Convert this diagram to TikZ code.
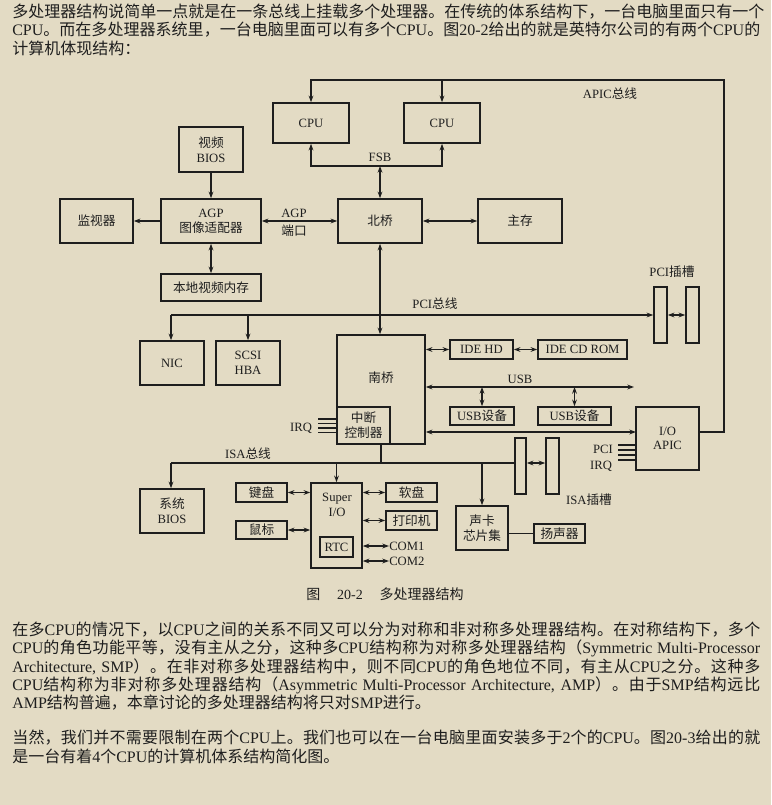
\documentclass[tikz,border=0pt]{standalone}
\usepackage{fontspec}
\setmainfont{Liberation Serif}
\newfontfamily\cjk{Noto Sans CJK SC}
\newfontfamily\latf{Liberation Serif}
\usetikzlibrary{arrows.meta}
\newXeTeXintercharclass\cjkcls
\count255="3000
\loop\XeTeXcharclass\count255=\cjkcls \ifnum\count255<"9FFF \advance\count255 by 1 \repeat
\count255="FF00
\loop\XeTeXcharclass\count255=\cjkcls \ifnum\count255<"FFEF \advance\count255 by 1 \repeat
\XeTeXinterchartoks 0 \cjkcls={\cjk}
\XeTeXinterchartoks 4095 \cjkcls={\cjk}
\XeTeXinterchartoks \cjkcls 0={\latf}
\XeTeXinterchartoks \cjkcls 4095={\latf}
\XeTeXinterchartoks \cjkcls \cjkcls={\hskip0pt plus 1pt\relax}
\XeTeXinterchartokenstate=1
\newcommand\jl[1]{\hbox to 561pt{#1}}
\definecolor{bg}{HTML}{E3DBC4}
\definecolor{ink}{HTML}{1E1E1E}
\begin{document}
\begin{tikzpicture}[x=0.75pt,y=-0.75pt,
  every node/.style={text=ink,font=\fontsize{9.5}{11}\selectfont},
  box/.style={draw=ink,line width=1.2pt,align=center,inner sep=0pt},
  lbl/.style={inner sep=0pt},
  txt/.style={anchor=west,inner sep=0pt,font=\fontsize{12}{14}\selectfont},
  con/.style={draw=ink,line width=1pt},
  ar/.style={con,-{Stealth[length=5pt,width=3.6pt]}},
  dar/.style={con,{Stealth[length=5pt,width=3.6pt]}-{Stealth[length=5pt,width=3.6pt]}}]
\fill[bg] (0,0) rectangle (771,805);
\useasboundingbox (0,0) rectangle (771,805);
\newcommand\bx[6]{\node[box,minimum width={(#4-#2)*0.75pt},minimum height={(#5-#3)*0.75pt}] (#1) at ({(#2+#4)/2},{(#3+#5)/2}) {#6};}
% top text
\node[txt] (p1) at (12,12) {\jl{多处理器结构说简单一点就是在一条总线上挂载多个处理器。在传统的体系结构下，一台电脑里面只有一个}};
\node[txt] (p2) at (12,30) {\jl{CPU。而在多处理器系统里，一台电脑里面可以有多个CPU。图20-2给出的就是英特尔公司的有两个CPU的}};
\node[txt] (p3) at (12,48) {计算机体现结构：};
% boxes
\bx{cpu1}{273}{103}{349}{143}{CPU}
\bx{cpu2}{404}{103}{480}{143}{CPU}
\bx{vbios}{179}{127}{243}{172}{视频\\BIOS}
\bx{mon}{60}{199}{133}{243}{监视器}
\bx{agp}{161}{199}{261}{243}{AGP\\图像适配器}
\bx{nb}{338}{199}{422}{243}{北桥}
\bx{mem}{478}{199}{562}{243}{主存}
\bx{lvm}{161}{274}{261}{301}{本地视频内存}
\bx{pci1}{654}{287}{667}{343}{}
\bx{pci2}{686}{287}{699}{343}{}
\bx{nic}{140}{341}{204}{385}{NIC}
\bx{scsi}{216}{341}{280}{385}{SCSI\\HBA}
\bx{sb}{337}{335}{425}{444}{}
\node[lbl] (sbl) at (381,378) {南桥};
\bx{intc}{337}{407}{390}{444}{中断\\控制器}
\bx{idehd}{450}{340}{513}{359}{IDE HD}
\bx{idecd}{538}{340}{627}{359}{IDE CD ROM}
\bx{usb1}{450}{407}{514}{425}{USB设备}
\bx{usb2}{538}{407}{611}{425}{USB设备}
\bx{ioapic}{636}{407}{699}{470}{I/O\\APIC}
\bx{sbios}{140}{489}{204}{533}{系统\\BIOS}
\bx{sio}{311}{483}{362}{568}{}
\node[lbl,align=center] (siol) at (337,505) {Super\\I/O};
\bx{rtc}{320}{537}{353}{557}{RTC}
\bx{kb}{236}{483}{287}{502}{键盘}
\bx{mouse}{236}{521}{287}{539}{鼠标}
\bx{fd}{386}{483}{437}{502}{软盘}
\bx{prn}{386}{511}{437}{530}{打印机}
\bx{snd}{456}{506}{508}{550}{声卡\\芯片集}
\bx{spk}{534}{524}{585}{543}{扬声器}
\bx{isa1}{515}{438}{526}{494}{}
\bx{isa2}{546}{438}{559}{494}{}
% labels
\node[lbl] (fsbl) at (380,157) {FSB};
\node[lbl] (agpl) at (294,213) {AGP};
\node[lbl] (portl) at (294,231) {端口};
\node[lbl] (apicl) at (610,94) {APIC总线};
\node[lbl] (pcisl) at (672,272) {PCI插槽};
\node[lbl] (pcibl) at (435,304) {PCI总线};
\node[lbl] (usbl) at (520,379) {USB};
\node[lbl] (irq1) at (301,428) {IRQ};
\node[lbl] (pcil) at (603,449) {PCI};
\node[lbl] (irq2) at (601,466) {IRQ};
\node[lbl] (isabl) at (248,454) {ISA总线};
\node[lbl] (isasl) at (589,500) {ISA插槽};
\node[lbl,anchor=west] (com1) at (389,546) {COM1};
\node[lbl,anchor=west] (com2) at (389,561) {COM2};
\node[lbl,font=\fontsize{10.5}{12}\selectfont] (cap) at (385,594) {图\hspace{1.2em}20-2\hspace{1.2em}多处理器结构};
% coordinates
\coordinate (fsb) at (380,166);
\coordinate (apicR) at (724,80);
\coordinate (pciL) at (171,315);
\coordinate (usbR) at (634,387);
\coordinate (sbap) at (636,432);
\coordinate (isaL) at (171,463);
% connectors
\draw[dar] (cpu1.south) |- (fsb) -| (cpu2.south);
\draw[dar] (fsb) -- (nb.north);
\draw[ar] (ioapic.east |- sbap) -| (apicR) -| (cpu1.north);
\draw[ar] (cpu2.north |- apicR) -- (cpu2.north);
\draw[ar] (vbios.south) -- (vbios.south |- agp.north);
\draw[ar] (agp.west) -- (mon.east);
\draw[dar] (agp.east) -- (nb.west);
\draw[dar] (nb.east) -- (mem.west);
\draw[dar] (agp.south) -- (lvm.north);
\draw[dar] (nb.south) -- (nb.south |- sb.north);
\draw[ar] (pciL) -- (pci1.west |- pciL);
\draw[ar] (pciL) -- (pciL |- nic.north);
\draw[ar] (scsi.north |- pciL) -- (scsi.north);
\draw[dar] (pci1.east |- pciL) -- (pci2.west |- pciL);
\draw[dar] (sb.east |- idehd) -- (idehd.west);
\draw[dar] (idehd.east) -- (idecd.west);
\draw[dar] (sb.east |- usbR) -- (usbR);
\draw[dar] (usb1.north |- usbR) -- (usb1.north);
\draw[dar] (usb2.north |- usbR) -- (usb2.north);
\draw[dar] (sb.east |- sbap) -- (sbap);
\foreach \y in {419,423.5,428,432.5} \draw[con] (318,\y) -- (337,\y);
\foreach \y in {445,450,455,460} \draw[con] (618,\y) -- (636,\y);
\draw[con] (sb.south) -- (sb.south |- isaL);
\draw[con] (isaL) -- (isa1.west |- isaL);
\draw[ar] (isaL) -- (isaL |- sbios.north);
\draw[ar] (sio.north |- isaL) -- (sio.north);
\draw[ar] (snd.north |- isaL) -- (snd.north);
\draw[dar] (isa1.east |- isaL) -- (isa2.west |- isaL);
\draw[dar] (kb.east) -- (sio.west |- kb.east);
\draw[dar] (mouse.east) -- (sio.west |- mouse.east);
\draw[dar] (sio.east |- fd.west) -- (fd.west);
\draw[dar] (sio.east |- prn.west) -- (prn.west);
\draw[dar] (sio.east |- com1) -- (com1.west);
\draw[dar] (sio.east |- com2) -- (com2.west);
\draw[con] (snd.east |- spk.west) -- (spk.west);
% bottom text
\node[txt] (q1) at (12,630) {\jl{在多CPU的情况下，以CPU之间的关系不同又可以分为对称和非对称多处理器结构。在对称结构下，多个}};
\node[txt] (q2) at (12,648) {\jl{CPU的角色功能平等，没有主从之分，这种多CPU结构称为对称多处理器结构（Symmetric Multi-Processor}};
\node[txt] (q3) at (12,667) {\jl{Architecture, SMP）。在非对称多处理器结构中，则不同CPU的角色地位不同，有主从CPU之分。这种多}};
\node[txt] (q4) at (12,685) {\jl{CPU结构称为非对称多处理器结构（Asymmetric Multi-Processor Architecture, AMP）。由于SMP结构远比}};
\node[txt] (q5) at (12,703) {AMP结构普遍，本章讨论的多处理器结构将只对SMP进行。};
\node[txt] (q6) at (12,738) {\jl{当然，我们并不需要限制在两个CPU上。我们也可以在一台电脑里面安装多于2个的CPU。图20-3给出的就}};
\node[txt] (q7) at (12,756) {是一台有着4个CPU的计算机体系结构简化图。};
\end{tikzpicture}
\end{document}
